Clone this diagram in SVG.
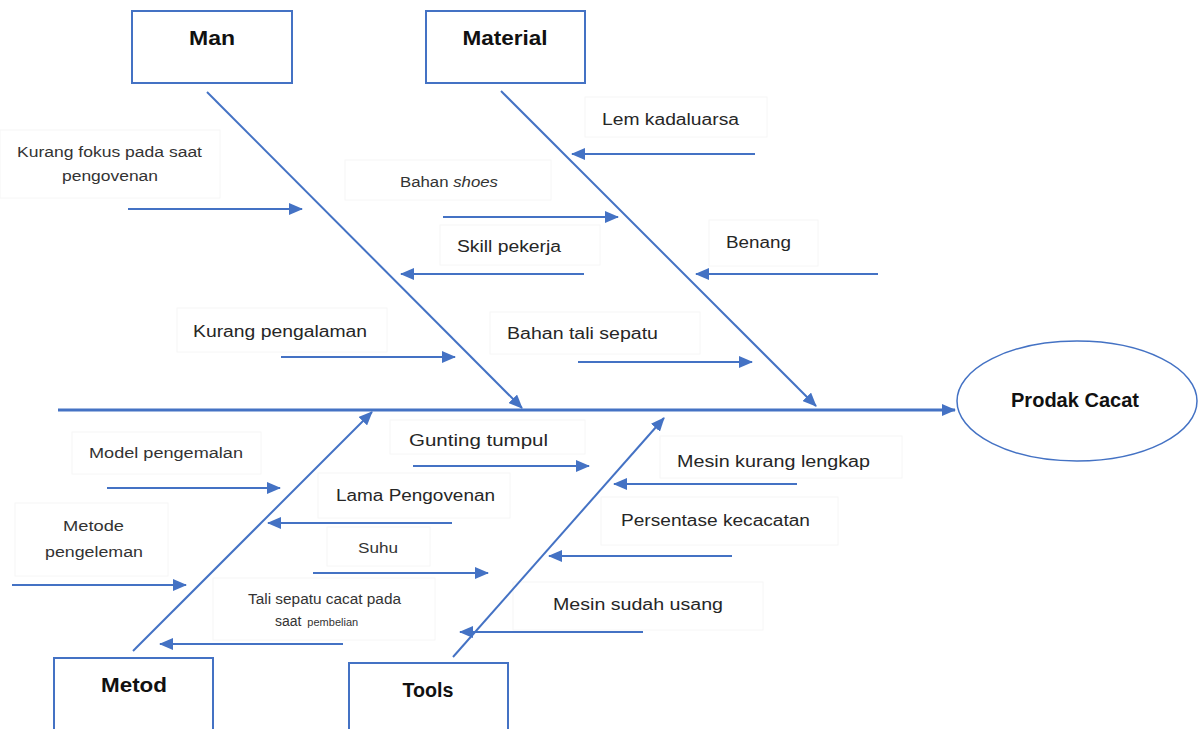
<svg xmlns="http://www.w3.org/2000/svg" width="1200" height="729" viewBox="0 0 1200 729">
<defs>
<marker id="ah" markerUnits="userSpaceOnUse" markerWidth="14" markerHeight="12" refX="13" refY="6" orient="auto">
<path d="M0,0 L14,6 L0,12 Z" fill="#4472C4"/>
</marker>
<style>
.cat{fill:#fff;stroke:#4472C4;stroke-width:2}
.ct{font-family:"Liberation Sans",Arial,sans-serif;font-weight:bold;font-size:20px;fill:#111;text-anchor:middle}
.lb{font-family:"Liberation Sans",Arial,sans-serif;font-size:16px;fill:#262626}
.sm{font-family:"Liberation Sans",Arial,sans-serif;font-size:14px;fill:#333}
.tb{fill:#fff;stroke:#f6f6f6;stroke-width:1}
.bone{stroke:#4472C4;stroke-width:2;fill:none;marker-end:url(#ah)}
.spine{stroke:#4472C4;stroke-width:3;fill:none}
</style>
</defs>
<rect width="1200" height="729" fill="#fff"/>

<g id="labels">
<rect class="tb" x="0" y="130" width="220" height="68"/>
<rect class="tb" x="345" y="160" width="206" height="40"/>
<rect class="tb" x="440" y="225" width="160" height="40"/>
<rect class="tb" x="177" y="308" width="210" height="44"/>
<rect class="tb" x="585" y="97" width="182" height="40"/>
<rect class="tb" x="709" y="220" width="109" height="46"/>
<rect class="tb" x="490" y="312" width="210" height="42"/>
<rect class="tb" x="72" y="432" width="189" height="42"/>
<rect class="tb" x="15" y="503" width="153" height="73"/>
<rect class="tb" x="318" y="473" width="192" height="45"/>
<rect class="tb" x="327" y="527" width="103" height="39"/>
<rect class="tb" x="213" y="578" width="222" height="62"/>
<rect class="tb" x="390" y="420" width="195" height="34"/>
<rect class="tb" x="660" y="436" width="242" height="42"/>
<rect class="tb" x="601" y="497" width="237" height="48"/>
<rect class="tb" x="513" y="582" width="250" height="48"/>
</g>

<g id="connectors">
<line class="spine" x1="58" y1="410" x2="955" y2="410" style="marker-end:url(#ah)"/>
<line class="bone" x1="207" y1="92" x2="522" y2="408"/>
<line class="bone" x1="501" y1="91" x2="816" y2="406"/>
<line class="bone" x1="133" y1="651" x2="372" y2="412"/>
<line class="bone" x1="453" y1="657" x2="664" y2="418"/>

<line class="bone" x1="128" y1="209" x2="302" y2="209"/>
<line class="bone" x1="443" y1="217" x2="618" y2="217"/>
<line class="bone" x1="584" y1="274" x2="401" y2="274"/>
<line class="bone" x1="281" y1="357" x2="455" y2="357"/>
<line class="bone" x1="755" y1="154" x2="572" y2="154"/>
<line class="bone" x1="878" y1="274" x2="696" y2="274"/>
<line class="bone" x1="578" y1="362" x2="752" y2="362"/>

<line class="bone" x1="107" y1="488" x2="280" y2="488"/>
<line class="bone" x1="12" y1="585" x2="186" y2="585"/>
<line class="bone" x1="452" y1="523" x2="268" y2="523"/>
<line class="bone" x1="313" y1="573" x2="488" y2="573"/>
<line class="bone" x1="343" y1="644" x2="160" y2="644"/>

<line class="bone" x1="413" y1="466" x2="589" y2="466"/>
<line class="bone" x1="797" y1="484" x2="614" y2="484"/>
<line class="bone" x1="732" y1="556" x2="549" y2="556"/>
<line class="bone" x1="643" y1="632" x2="460" y2="632"/>
</g>

<g id="man">
<rect class="cat" x="132" y="11" width="160" height="72"/>
<text class="ct" x="212" y="45" textLength="46" lengthAdjust="spacingAndGlyphs">Man</text>
</g>
<g id="material">
<rect class="cat" x="426" y="11" width="159" height="72"/>
<text class="ct" x="505" y="45" textLength="85" lengthAdjust="spacingAndGlyphs">Material</text>
</g>
<g id="metod">
<rect class="cat" x="54" y="658" width="159" height="80"/>
<text class="ct" x="134" y="692" textLength="66" lengthAdjust="spacingAndGlyphs">Metod</text>
</g>
<g id="tools">
<rect class="cat" x="349" y="663" width="159" height="80"/>
<text class="ct" x="428" y="697" textLength="51" lengthAdjust="spacingAndGlyphs">Tools</text>
</g>
<g id="effect">
<ellipse cx="1077" cy="401" rx="120" ry="60" fill="#fff" stroke="#4472C4" stroke-width="1.5"/>
<text class="ct" x="1075" y="407" textLength="128" lengthAdjust="spacingAndGlyphs">Prodak Cacat</text>
</g>

<g id="cause-texts">
<text class="sm" x="17" y="157" textLength="185" lengthAdjust="spacingAndGlyphs">Kurang fokus pada saat</text>
<text class="sm" x="62" y="181" textLength="96" lengthAdjust="spacingAndGlyphs">pengovenan</text>
<text class="sm" x="400" y="187" font-size="15" textLength="98" lengthAdjust="spacingAndGlyphs">Bahan <tspan font-style="italic">shoes</tspan></text>
<text class="lb" x="457" y="252" textLength="104" lengthAdjust="spacingAndGlyphs">Skill pekerja</text>
<text class="lb" x="193" y="337" textLength="174" lengthAdjust="spacingAndGlyphs">Kurang pengalaman</text>
<text class="lb" x="602" y="125" textLength="137" lengthAdjust="spacingAndGlyphs">Lem kadaluarsa</text>
<text class="lb" x="726" y="248" textLength="65" lengthAdjust="spacingAndGlyphs">Benang</text>
<text class="lb" x="507" y="339" textLength="151" lengthAdjust="spacingAndGlyphs">Bahan tali sepatu</text>
<text class="sm" x="89" y="458" textLength="154" lengthAdjust="spacingAndGlyphs">Model pengemalan</text>
<text class="sm" x="63" y="531" textLength="61" lengthAdjust="spacingAndGlyphs">Metode</text>
<text class="sm" x="45" y="557" textLength="98" lengthAdjust="spacingAndGlyphs">pengeleman</text>
<text class="lb" x="336" y="501" textLength="159" lengthAdjust="spacingAndGlyphs">Lama Pengovenan</text>
<text class="sm" x="358" y="553" textLength="40" lengthAdjust="spacingAndGlyphs">Suhu</text>
<text class="sm" x="248" y="604" font-size="13" textLength="153" lengthAdjust="spacingAndGlyphs">Tali sepatu cacat pada</text>
<text class="sm" x="275" y="626" font-size="13">saat <tspan font-size="11" dx="2">pembelian</tspan></text>
<text class="lb" x="409" y="446" textLength="139" lengthAdjust="spacingAndGlyphs">Gunting tumpul</text>
<text class="lb" x="677" y="467" textLength="193" lengthAdjust="spacingAndGlyphs">Mesin kurang lengkap</text>
<text class="lb" x="621" y="526" textLength="189" lengthAdjust="spacingAndGlyphs">Persentase kecacatan</text>
<text class="lb" x="553" y="610" textLength="170" lengthAdjust="spacingAndGlyphs">Mesin sudah usang</text>
</g>
</svg>
